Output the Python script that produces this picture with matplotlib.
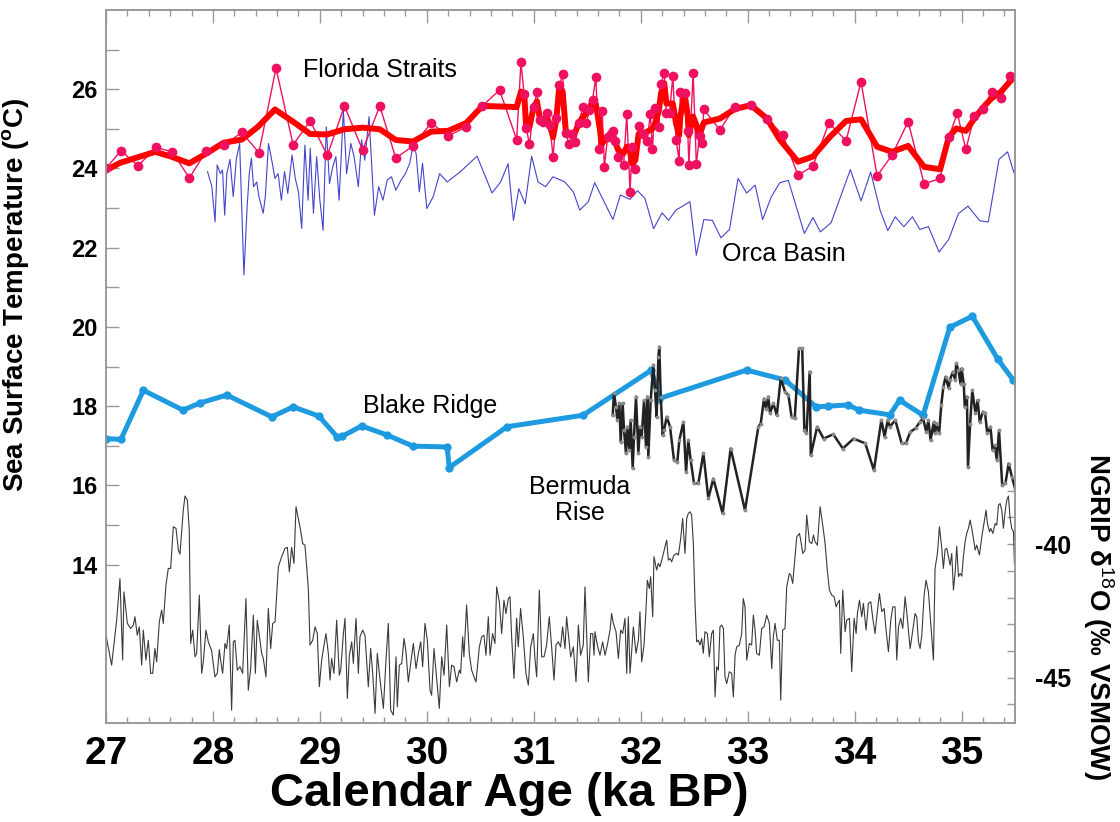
import matplotlib
matplotlib.use("Agg")
import matplotlib.pyplot as plt
from matplotlib.ticker import FixedLocator, MultipleLocator, NullFormatter

plt.rcParams['font.family'] = ['Liberation Sans', 'DejaVu Sans']
plt.rcParams['mathtext.fontset'] = 'custom'
plt.rcParams['mathtext.rm'] = 'Liberation Sans'
plt.rcParams['mathtext.bf'] = 'Liberation Sans:bold'
plt.rcParams['axes.unicode_minus'] = False

# Florida Straits SST, individual samples
fl_age = [27.00, 27.14, 27.30, 27.47, 27.62, 27.78, 27.94, 28.10, 28.27, 28.43,
          28.59, 28.75, 28.91, 29.07, 29.23, 29.40, 29.56, 29.71, 29.87, 30.04,
          30.20, 30.37, 30.52, 30.68, 30.84, 30.88, 30.91, 30.93, 30.96, 31.00,
          31.03, 31.06, 31.09, 31.12, 31.15, 31.18, 31.21, 31.24, 31.27, 31.30,
          31.33, 31.36, 31.39, 31.42, 31.46, 31.49, 31.52, 31.55, 31.58, 31.61,
          31.64, 31.66, 31.69, 31.72, 31.74, 31.76, 31.79, 31.84, 31.87, 31.90,
          31.92, 31.95, 31.98, 32.02, 32.06, 32.09, 32.11, 32.13, 32.17, 32.19,
          32.22, 32.24, 32.27, 32.30, 32.33, 32.36, 32.37, 32.41, 32.44, 32.45,
          32.49, 32.52, 32.55, 32.57, 32.59, 32.74, 32.88, 33.03, 33.18, 33.33,
          33.47, 33.61, 33.76, 33.92, 34.06, 34.21, 34.35, 34.50, 34.65, 34.80,
          34.88, 34.96, 35.04, 35.12, 35.20, 35.28, 35.37, 35.45]
fl_sst = [24.00, 24.45, 24.07, 24.53, 24.42, 23.76, 24.45, 24.58, 24.91, 24.40,
          26.53, 24.60, 25.20, 24.33, 25.58, 24.46, 25.58, 24.26, 24.57, 25.15,
          24.82, 25.05, 25.58, 25.98, 24.73, 26.68, 25.87, 25.01, 24.61, 25.56,
          25.92, 25.22, 25.18, 25.41, 25.10, 24.30, 25.27, 26.11, 26.38, 24.90,
          24.61, 24.87, 24.67, 25.15, 25.54, 25.14, 25.47, 25.74, 26.30, 24.48,
          25.45, 24.04, 24.79, 24.86, 24.94, 24.70, 24.28, 24.09, 25.37, 23.41,
          24.55, 23.98, 25.07, 24.87, 24.70, 25.37, 24.48, 25.52, 25.04, 26.13,
          26.42, 25.41, 25.41, 26.33, 24.73, 24.19, 25.94, 25.91, 24.94, 24.09,
          26.42, 24.11, 24.82, 24.65, 25.49, 24.97, 25.56, 25.60, 25.26, 24.84,
          23.83, 24.06, 25.15, 24.70, 26.19, 23.81, 24.34, 25.18, 23.61, 23.75,
          24.79, 25.39, 24.48, 25.33, 25.49, 25.94, 25.77, 26.33]

# Florida Straits SST, smoothed record
fls_age = [27.00, 27.13, 27.46, 27.61, 27.78, 27.94, 28.10, 28.27, 28.42, 28.58,
           28.75, 28.91, 29.07, 29.23, 29.40, 29.56, 29.71, 29.87, 30.04, 30.20,
           30.37, 30.52, 30.84, 30.88, 30.91, 30.93, 30.96, 31.00, 31.03, 31.06,
           31.09, 31.12, 31.15, 31.18, 31.21, 31.24, 31.27, 31.30, 31.33, 31.36,
           31.39, 31.42, 31.46, 31.49, 31.52, 31.55, 31.58, 31.61, 31.64, 31.68,
           31.71, 31.74, 31.76, 31.79, 31.84, 31.87, 31.90, 31.92, 31.95, 31.98,
           32.02, 32.06, 32.09, 32.11, 32.13, 32.17, 32.19, 32.22, 32.24, 32.30,
           32.33, 32.36, 32.37, 32.41, 32.44, 32.45, 32.49, 32.52, 32.55, 32.59,
           32.74, 32.88, 33.03, 33.18, 33.30, 33.47, 33.61, 33.77, 33.92, 34.06,
           34.21, 34.35, 34.50, 34.65, 34.80, 34.88, 34.95, 35.04, 35.12, 35.20,
           35.28, 35.37, 35.45, 35.50]
fls_sst = [23.95, 24.14, 24.42, 24.30, 24.13, 24.38, 24.65, 24.73, 25.05, 25.49,
           25.18, 24.87, 24.86, 24.99, 25.03, 24.99, 24.72, 24.68, 24.93, 24.95,
           25.15, 25.58, 25.55, 25.94, 25.90, 25.01, 25.05, 25.56, 25.69, 25.22,
           25.22, 25.31, 25.10, 24.79, 25.22, 26.11, 25.94, 24.93, 24.84, 24.89,
           24.93, 25.14, 25.31, 25.39, 25.47, 25.74, 25.63, 25.14, 24.63, 24.79,
           24.82, 24.87, 24.68, 24.46, 24.38, 24.55, 24.46, 24.13, 24.21, 24.87,
           24.89, 24.93, 24.97, 25.01, 25.10, 25.47, 25.90, 26.15, 25.64, 25.64,
           25.14, 24.84, 25.31, 25.90, 25.31, 24.84, 25.31, 25.10, 24.84, 25.16,
           25.26, 25.50, 25.60, 25.26, 24.73, 24.17, 24.30, 24.80, 25.20, 25.24,
           24.55, 24.42, 24.57, 24.04, 23.98, 24.79, 25.01, 24.95, 25.26, 25.54,
           25.77, 25.94, 26.19, 26.33]

# Orca Basin SST
orca_age = [27.95, 27.99, 28.02, 28.04, 28.07, 28.09, 28.11, 28.13, 28.16, 28.19,
            28.22, 28.25, 28.27, 28.29, 28.32, 28.34, 28.36, 28.38, 28.41, 28.43,
            28.47, 28.49, 28.52, 28.55, 28.58, 28.61, 28.64, 28.67, 28.70, 28.74,
            28.77, 28.80, 28.83, 28.86, 28.89, 28.91, 28.94, 28.97, 29.00, 29.03,
            29.06, 29.09, 29.12, 29.15, 29.18, 29.22, 29.25, 29.29, 29.32, 29.36,
            29.39, 29.42, 29.46, 29.51, 29.55, 29.59, 29.63, 29.67, 29.71, 29.76,
            29.80, 29.84, 29.87, 29.90, 29.93, 29.96, 30.00, 30.06, 30.12, 30.19,
            30.31, 30.47, 30.61, 30.69, 30.76, 30.81, 30.86, 30.92, 30.98, 31.04,
            31.11, 31.18, 31.29, 31.37, 31.43, 31.51, 31.57, 31.65, 31.74, 31.81,
            31.90, 31.97, 32.04, 32.12, 32.20, 32.26, 32.33, 32.46, 32.52, 32.59,
            32.67, 32.75, 32.83, 32.91, 32.99, 33.07, 33.14, 33.22, 33.30, 33.38,
            33.53, 33.61, 33.68, 33.78, 33.96, 34.06, 34.15, 34.24, 34.31, 34.38,
            34.46, 34.54, 34.61, 34.69, 34.79, 34.88, 34.97, 35.06, 35.17, 35.25,
            35.35, 35.43, 35.49]
orca_sst = [23.92, 23.54, 22.65, 24.09, 23.87, 23.96, 22.82, 23.87, 24.23, 23.29,
            24.26, 24.63, 22.95, 21.31, 23.03, 23.87, 24.26, 23.54, 23.66, 23.29,
            22.87, 23.29, 24.63, 24.21, 23.75, 23.87, 23.20, 23.92, 23.37, 24.34,
            23.75, 23.41, 22.49, 24.59, 23.20, 24.51, 22.87, 24.30, 23.20, 22.44,
            25.05, 23.62, 24.04, 24.30, 23.20, 25.47, 23.87, 24.63, 24.30, 23.54,
            24.72, 24.21, 25.31, 22.82, 23.54, 23.20, 23.71, 23.79, 23.45, 23.71,
            23.87, 24.13, 24.56, 24.38, 23.41, 24.13, 22.99, 23.29, 23.87, 23.66,
            23.91, 24.31, 23.38, 23.66, 24.12, 22.69, 23.49, 23.11, 24.31, 23.66,
            23.54, 23.79, 23.66, 23.41, 22.95, 23.16, 23.64, 23.20, 22.71, 23.33,
            23.22, 23.44, 23.24, 22.48, 22.88, 22.69, 22.95, 23.16, 21.81, 22.71,
            22.69, 22.25, 22.46, 23.75, 23.38, 23.58, 22.71, 23.28, 23.64, 23.70,
            22.36, 22.76, 22.40, 22.63, 23.97, 23.18, 23.91, 22.93, 22.43, 22.78,
            22.53, 22.78, 22.46, 22.53, 21.89, 22.21, 22.86, 23.05, 22.68, 22.65,
            24.23, 24.42, 23.89]

# Blake Ridge SST
blake_age = [27.00, 27.14, 27.35, 27.72, 27.88, 28.13, 28.55, 28.75, 28.99, 29.16,
             29.21, 29.39, 29.63, 29.87, 30.19, 30.21, 30.75, 31.46, 32.10, 32.17,
             32.99, 33.35, 33.64, 33.75, 33.94, 34.04, 34.33, 34.42, 34.64, 34.89,
             35.10, 35.34, 35.48]
blake_sst = [17.18, 17.16, 18.40, 17.90, 18.08, 18.28, 17.73, 17.98, 17.75, 17.23,
             17.24, 17.50, 17.27, 16.99, 16.97, 16.45, 17.48, 17.77, 18.91, 18.19,
             18.91, 18.66, 17.98, 18.00, 18.03, 17.90, 17.78, 18.15, 17.77, 19.99,
             20.27, 19.18, 18.67]

# Bermuda Rise SST
berm_age = [31.738, 31.750, 31.769, 31.781, 31.800, 31.813, 31.831, 31.844, 31.862, 31.875,
            31.894, 31.906, 31.925, 31.937, 31.956, 31.978, 31.993, 32.009, 32.031, 32.049,
            32.062, 32.071, 32.093, 32.118, 32.134, 32.149, 32.165, 32.174, 32.187, 32.205,
            32.218, 32.243, 32.274, 32.311, 32.342, 32.361, 32.399, 32.424, 32.445, 32.467,
            32.498, 32.539, 32.586, 32.632, 32.679, 32.766, 32.841, 32.975, 33.100, 33.122,
            33.153, 33.172, 33.193, 33.209, 33.240, 33.272, 33.309, 33.350, 33.381, 33.41,
            33.44, 33.48, 33.51, 33.53, 33.55, 33.58, 33.59, 33.65, 33.71, 33.80,
            33.89, 33.99, 34.10, 34.18, 34.25, 34.28, 34.31, 34.33, 34.38, 34.44,
            34.48, 34.52, 34.57, 34.61, 34.64, 34.67, 34.69, 34.71, 34.74, 34.75,
            34.77, 34.79, 34.81, 34.83, 34.85, 34.88, 34.89, 34.92, 34.94, 34.95,
            34.97, 34.99, 35.00, 35.02, 35.03, 35.05, 35.06, 35.08, 35.10, 35.13,
            35.15, 35.17, 35.20, 35.22, 35.24, 35.27, 35.29, 35.31, 35.33, 35.35,
            35.38, 35.41, 35.44, 35.47, 35.50]
berm_sst = [17.77, 18.32, 17.98, 17.65, 18.07, 17.10, 18.07, 17.39, 16.81, 17.48,
            16.89, 17.65, 16.43, 17.23, 18.24, 16.81, 17.48, 17.23, 18.15, 16.97,
            18.24, 16.72, 18.15, 19.04, 18.40, 17.73, 19.25, 19.50, 18.24, 17.27,
            17.39, 17.73, 17.48, 16.64, 16.59, 17.14, 17.60, 16.34, 17.14, 16.64,
            16.05, 16.05, 16.81, 15.67, 16.17, 15.29, 16.93, 15.37, 17.48, 17.56,
            18.19, 17.94, 18.24, 17.82, 18.07, 17.77, 18.70, 18.36, 18.28, 17.73,
            17.69, 19.46, 19.46, 17.39, 17.31, 18.87, 16.76, 17.48, 17.18, 17.29,
            16.93, 17.18, 17.06, 16.38, 17.65, 17.23, 17.65, 17.48, 17.65, 17.06,
            17.06, 17.35, 17.44, 17.60, 17.69, 17.35, 17.65, 17.14, 17.60, 17.31,
            17.56, 17.31, 18.03, 18.49, 18.74, 18.45, 18.66, 18.87, 18.66, 19.08,
            18.91, 18.57, 18.95, 18.57, 17.98, 18.24, 16.47, 17.56, 18.40, 17.82,
            18.15, 17.60, 17.86, 17.82, 17.31, 17.48, 16.89, 17.01, 16.64, 17.39,
            16.00, 16.05, 16.55, 16.22, 15.92]

# NGRIP d18O
ngrip_age = [27.000, 27.053, 27.100, 27.131, 27.156, 27.168, 27.200, 27.231, 27.256, 27.271,
             27.293, 27.312, 27.334, 27.349, 27.374, 27.396, 27.418, 27.437, 27.458, 27.474,
             27.499, 27.521, 27.536, 27.561, 27.583, 27.605, 27.630, 27.655, 27.677, 27.692,
             27.723, 27.739, 27.761, 27.779, 27.792, 27.811, 27.833, 27.848, 27.873, 27.895,
             27.910, 27.935, 27.957, 27.988, 28.019, 28.041, 28.060, 28.072, 28.091, 28.113,
             28.128, 28.153, 28.175, 28.191, 28.206, 28.228, 28.253, 28.278, 28.309, 28.331,
             28.353, 28.378, 28.397, 28.415, 28.440, 28.456, 28.471, 28.496, 28.518, 28.540,
             28.559, 28.581, 28.612, 28.643, 28.674, 28.696, 28.715, 28.736, 28.758, 28.777,
             28.799, 28.820, 28.839, 28.861, 28.892, 28.908, 28.933, 28.955, 28.976, 28.995,
             29.017, 29.039, 29.057, 29.079, 29.095, 29.110, 29.132, 29.157, 29.182, 29.195,
             29.220, 29.235, 29.257, 29.276, 29.298, 29.313, 29.338, 29.360, 29.375, 29.400,
             29.422, 29.453, 29.475, 29.494, 29.516, 29.537, 29.556, 29.578, 29.594, 29.619,
             29.640, 29.662, 29.687, 29.712, 29.724, 29.743, 29.765, 29.787, 29.805, 29.827,
             29.849, 29.874, 29.899, 29.921, 29.943, 29.961, 29.983, 30.005, 30.030, 30.045,
             30.067, 30.092, 30.117, 30.139, 30.161, 30.186, 30.211, 30.232, 30.254, 30.279,
             30.304, 30.316, 30.335, 30.347, 30.372, 30.397, 30.419, 30.441, 30.460, 30.491,
             30.513, 30.534, 30.553, 30.575, 30.591, 30.615, 30.637, 30.653, 30.678, 30.700,
             30.721, 30.740, 30.762, 30.778, 30.793, 30.815, 30.840, 30.855, 30.877, 30.902,
             30.927, 30.949, 30.971, 30.996, 31.011, 31.027, 31.052, 31.074, 31.096, 31.120,
             31.145, 31.167, 31.189, 31.208, 31.230, 31.251, 31.270, 31.292, 31.307, 31.323,
             31.345, 31.370, 31.395, 31.417, 31.438, 31.463, 31.479, 31.494, 31.510, 31.532,
             31.551, 31.563, 31.572, 31.594, 31.619, 31.644, 31.666, 31.688, 31.713, 31.728,
             31.744, 31.769, 31.791, 31.812, 31.831, 31.853, 31.869, 31.884, 31.900, 31.915,
             31.931, 31.956, 31.978, 31.993, 32.009, 32.031, 32.049, 32.062, 32.080, 32.093,
             32.112, 32.124, 32.149, 32.165, 32.180, 32.205, 32.227, 32.243, 32.258, 32.274,
             32.289, 32.311, 32.336, 32.352, 32.374, 32.392, 32.414, 32.430, 32.445, 32.461,
             32.476, 32.492, 32.508, 32.523, 32.539, 32.554, 32.570, 32.585, 32.601, 32.623,
             32.641, 32.663, 32.679, 32.695, 32.710, 32.726, 32.741, 32.757, 32.773, 32.788,
             32.804, 32.829, 32.850, 32.866, 32.882, 32.897, 32.922, 32.944, 32.959, 32.975,
             32.991, 33.016, 33.037, 33.053, 33.069, 33.084, 33.109, 33.131, 33.153, 33.178,
             33.203, 33.225, 33.240, 33.256, 33.277, 33.296, 33.309, 33.327, 33.349, 33.365,
             33.390, 33.403, 33.421, 33.443, 33.459, 33.484, 33.496, 33.515, 33.537, 33.552,
             33.577, 33.599, 33.615, 33.630, 33.652, 33.677, 33.702, 33.724, 33.746, 33.764,
             33.786, 33.808, 33.827, 33.839, 33.858, 33.870, 33.889, 33.911, 33.926, 33.951,
             33.973, 33.995, 34.014, 34.026, 34.045, 34.067, 34.082, 34.107, 34.129, 34.151,
             34.170, 34.191, 34.207, 34.232, 34.254, 34.276, 34.294, 34.316, 34.338, 34.357,
             34.378, 34.394, 34.410, 34.431, 34.450, 34.472, 34.487, 34.503, 34.519, 34.544,
             34.565, 34.581, 34.597, 34.612, 34.628, 34.650, 34.668, 34.690, 34.712, 34.737,
             34.752, 34.774, 34.793, 34.815, 34.830, 34.846, 34.862, 34.877, 34.893, 34.908,
             34.924, 34.939, 34.955, 34.971, 34.986, 35.002, 35.017, 35.033, 35.049, 35.064,
             35.080, 35.095, 35.111, 35.127, 35.142, 35.167, 35.189, 35.204, 35.229, 35.242,
             35.261, 35.273, 35.292, 35.314, 35.329, 35.345, 35.360, 35.376, 35.391, 35.407,
             35.423, 35.438, 35.454, 35.469, 35.485, 35.494]
ngrip_d18o = [-43.41, -44.53, -42.85, -41.29, -44.34, -41.79, -42.97, -43.16, -43.03, -42.72,
              -43.41, -43.10, -44.53, -43.22, -44.34, -43.60, -44.84, -44.84, -43.91, -44.41,
              -42.91, -42.47, -42.97, -41.54, -40.91, -40.91, -39.35, -39.41, -40.22, -40.37,
              -38.73, -38.20, -38.35, -39.48, -43.72, -43.22, -44.22, -44.09, -41.91, -44.84,
              -44.41, -43.22, -43.66, -43.99, -44.97, -44.84, -43.95, -44.34, -44.84, -43.72,
              -43.91, -43.03, -46.22, -43.66, -43.60, -44.72, -44.59, -44.84, -42.04, -45.47,
              -44.66, -42.66, -44.84, -42.85, -43.60, -44.09, -44.28, -44.97, -42.41, -43.91,
              -42.97, -42.91, -40.85, -40.47, -40.16, -40.12, -41.04, -40.12, -40.72, -38.60,
              -39.04, -39.48, -39.98, -40.04, -41.66, -43.78, -43.60, -43.10, -43.35, -45.34,
              -44.34, -43.78, -43.35, -44.09, -45.09, -44.28, -44.84, -42.85, -44.91, -44.72,
              -43.35, -42.78, -45.78, -44.16, -43.66, -44.47, -42.78, -44.84, -43.47, -43.22,
              -43.41, -45.34, -43.91, -44.84, -46.34, -44.09, -44.84, -45.59, -46.15, -44.28,
              -42.97, -46.22, -46.40, -44.22, -46.09, -44.53, -44.47, -43.53, -44.03, -45.16,
              -44.47, -43.72, -44.66, -44.09, -43.66, -44.59, -42.97, -43.60, -45.47, -45.66,
              -43.91, -45.03, -46.15, -44.22, -44.91, -43.03, -45.34, -44.53, -44.59, -45.16,
              -44.72, -44.84, -43.47, -44.22, -42.28, -44.09, -44.72, -44.97, -45.16, -43.85,
              -43.47, -43.41, -44.16, -42.72, -44.16, -43.35, -43.72, -41.60, -42.16, -43.35,
              -42.10, -42.60, -42.04, -41.97, -43.47, -45.03, -42.78, -43.85, -42.41, -43.47,
              -44.84, -45.28, -43.85, -43.35, -44.28, -44.97, -41.72, -44.22, -44.22, -43.78,
              -42.72, -43.85, -45.09, -43.78, -43.66, -43.85, -43.10, -43.91, -42.72, -43.35,
              -44.22, -43.85, -45.16, -43.03, -44.16, -43.78, -41.60, -43.35, -45.16, -43.35,
              -43.35, -44.16, -43.28, -43.78, -44.16, -43.66, -44.16, -43.78, -43.22, -42.60,
              -42.97, -43.28, -44.28, -43.22, -43.35, -42.78, -44.84, -42.72, -44.84, -44.03,
              -43.10, -44.09, -43.60, -42.53, -44.41, -43.78, -42.47, -41.35, -41.66, -41.22,
              -42.72, -40.47, -40.97, -40.72, -40.85, -40.47, -40.10, -39.85, -40.60, -40.54,
              -40.66, -40.41, -40.35, -40.41, -39.79, -39.04, -40.35, -39.04, -38.85, -38.79,
              -38.91, -39.98, -42.22, -43.66, -43.60, -43.78, -43.53, -44.09, -43.28, -43.35,
              -44.22, -43.35, -43.22, -45.72, -44.59, -44.72, -43.10, -43.03, -43.16, -44.97,
              -45.22, -44.78, -44.84, -45.72, -44.16, -43.85, -43.78, -43.35, -42.04, -42.35,
              -44.34, -43.72, -43.78, -42.66, -43.22, -44.09, -44.16, -43.16, -43.10, -42.66,
              -42.97, -44.66, -43.47, -42.97, -43.60, -43.60, -45.84, -43.22, -43.16, -41.60,
              -41.10, -41.16, -41.47, -40.47, -39.73, -39.60, -39.85, -40.35, -40.22, -38.91,
              -39.91, -39.98, -39.66, -39.91, -40.04, -38.60, -39.29, -39.98, -41.04, -41.72,
              -41.91, -41.97, -42.35, -42.22, -42.10, -44.09, -41.72, -43.28, -42.85, -42.78,
              -44.78, -42.78, -43.35, -42.60, -42.10, -42.72, -42.22, -43.22, -42.22, -42.16,
              -42.78, -43.35, -42.72, -41.85, -42.53, -42.41, -43.22, -44.03, -42.85, -42.35,
              -42.35, -44.34, -43.10, -42.78, -43.16, -41.97, -42.53, -43.22, -43.91, -43.22,
              -42.60, -42.72, -43.66, -43.91, -43.41, -41.91, -41.35, -41.79, -42.97, -44.34,
              -40.91, -40.35, -39.35, -40.16, -40.91, -40.20, -40.16, -40.47, -40.79, -40.35,
              -41.72, -41.10, -40.08, -41.22, -41.10, -41.20, -40.47, -39.91, -39.58, -39.41,
              -39.10, -39.41, -39.79, -40.22, -40.04, -40.41, -39.73, -39.35, -38.73, -39.23,
              -39.54, -39.41, -39.60, -39.23, -39.29, -38.54, -38.48, -38.73, -39.41, -38.79,
              -38.35, -38.20, -39.04, -39.41, -39.54, -40.72]

fig = plt.figure(figsize=(11.2, 8.22), dpi=100)
ax = fig.add_axes([0.0946, 0.1204, 0.8117, 0.8674])
ax2 = ax.twinx()

frame = '#999999'

# NGRIP on the right-hand scale
ax2.plot(ngrip_age, ngrip_d18o, color='#3a3a3a', lw=0.8, zorder=2)

ax.plot(orca_age, orca_sst, color='#4444cc', lw=0.8, zorder=2)
ax.plot(fl_age, fl_sst, color='#f01060', lw=1.0, zorder=3)
ax.plot(fls_age, fls_sst, color='#ff0000', lw=4.3, solid_joinstyle='round', zorder=4)
ax.plot(fl_age, fl_sst, ls='none', marker='o', ms=7, color='#f01060', mec='none', zorder=5)
ax.plot(blake_age, blake_sst, color='#1e9be0', lw=3.6, marker='o', ms=6, mec='none', zorder=3)
ax.plot(berm_age, berm_sst, color='#222222', lw=1.8, marker='o', ms=2.8,
        mfc='#8a8a8a', mec='none', zorder=4)

ax.set_xlim(27, 35.5)
ax.set_ylim(10, 28)
ax2.set_ylim(-46.7, -20)

ax.xaxis.set_major_locator(MultipleLocator(1))
ax.xaxis.set_minor_locator(MultipleLocator(0.2))
ax.yaxis.set_major_locator(FixedLocator([14, 16, 18, 20, 22, 24, 26]))
ax.yaxis.set_minor_locator(FixedLocator([15, 17, 19, 21, 23, 25, 27]))
ax2.yaxis.set_major_locator(FixedLocator([-45, -40]))
ax2.yaxis.set_minor_locator(FixedLocator([-46, -44, -43, -42, -41, -39, -38]))
ax2.yaxis.set_minor_formatter(NullFormatter())

ax.tick_params(axis='x', which='both', direction='in', top=True, colors=frame,
               labelcolor='black', labelsize=28, pad=9, width=1)
ax.tick_params(axis='x', which='major', length=9)
ax.tick_params(axis='x', which='minor', length=4.5)
ax.tick_params(axis='y', which='both', direction='in', length=9, colors=frame,
               labelcolor='black', labelsize=17, pad=6, width=1)
ax2.tick_params(axis='y', which='both', direction='in', length=6, colors=frame,
                labelcolor='black', labelsize=18, pad=14, width=1)

for a in (ax, ax2):
    for s in a.spines.values():
        s.set_color(frame)
        s.set_linewidth(1.2)

for lab in ax.get_xticklabels() + ax.get_yticklabels() + ax2.get_yticklabels():
    lab.set_fontweight('bold')

ax.set_xlabel('Calendar Age (ka BP)', fontsize=34, fontweight='bold')
ax.xaxis.set_label_coords(0.444, -0.069)
ax.set_ylabel(r'Sea Surface Temperature ($\mathbf{^o}$C)', fontsize=20, fontweight='bold')
ax.yaxis.set_label_coords(-0.082, 0.60)
ax2.set_ylabel(r'NGRIP δ$^{18}$O (‰ VSMOW)', fontsize=20, fontweight='bold',
               rotation=-90, va='bottom')
ax2.yaxis.set_label_coords(1.073, 0.15)

ax.text(28.84, 26.48, 'Florida Straits', fontsize=18, ha='left', va='center')
ax.text(32.76, 21.84, 'Orca Basin', fontsize=18, ha='left', va='center')
ax.text(29.40, 18.0, 'Blake Ridge', fontsize=18, ha='left', va='center')
ax.text(31.43, 15.63, 'Bermuda\nRise', fontsize=18, ha='center', va='center',
        linespacing=1.15)

fig.savefig('out.png', dpi=100)
